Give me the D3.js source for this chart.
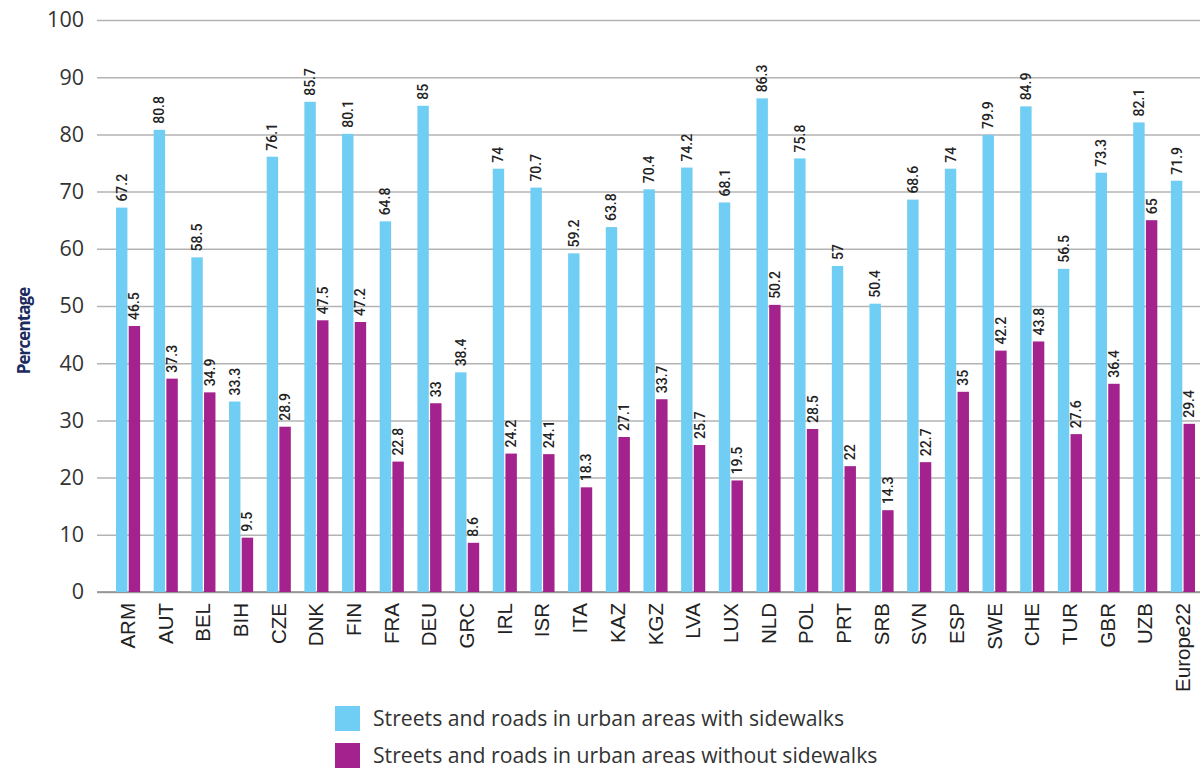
<!DOCTYPE html>
<html lang="en">
<head>
  <meta charset="UTF-8">
  <title>Streets and roads with sidewalks</title>
  <script src="https://d3js.org/d3.v7.min.js"></script>
  <style>
    body { margin: 0; background: #fff; }
    svg { display: block; }
    .tick text { font-family: "Open Sans", sans-serif; fill: #333; }
  </style>
</head>
<body>
<svg width="1204" height="769"></svg>
<script>
const categories = ["ARM","AUT","BEL","BIH","CZE","DNK","FIN","FRA","DEU","GRC","IRL","ISR","ITA","KAZ","KGZ","LVA","LUX","NLD","POL","PRT","SRB","SVN","ESP","SWE","CHE","TUR","GBR","UZB","Europe22"];
const withSidewalks = [67.2,80.8,58.5,33.3,76.1,85.7,80.1,64.8,85,38.4,74,70.7,59.2,63.8,70.4,74.2,68.1,86.3,75.8,57,50.4,68.6,74,79.9,84.9,56.5,73.3,82.1,71.9];
const withoutSidewalks = [46.5,37.3,34.9,9.5,28.9,47.5,47.2,22.8,33,8.6,24.2,24.1,18.3,27.1,33.7,25.7,19.5,50.2,28.5,22,14.3,22.7,35,42.2,43.8,27.6,36.4,65,29.4];
const seriesNames = ["Streets and roads in urban areas with sidewalks", "Streets and roads in urban areas without sidewalks"];
const colors = ["#70cdf3", "#a3228e"];
const yTicks = [0,10,20,30,40,50,60,70,80,90,100];

const svg = d3.select("svg");
const plotTop = 20, plotBottom = 592, plotLeft = 97, plotRight = 1200;

const x = d3.scaleBand().domain(categories).range([116, 1195]).paddingInner(0.36).paddingOuter(0);
const x1 = d3.scaleBand().domain([0, 1]).range([0, x.bandwidth()]).paddingInner(0.1);
const y = d3.scaleLinear().domain([0, 100]).range([plotBottom, plotTop]);

// gridlines + y labels
const yAxis = svg.append("g")
  .attr("transform", `translate(${plotLeft},0)`)
  .call(d3.axisLeft(y).tickValues(yTicks).tickSize(-(plotRight - plotLeft)).tickPadding(13));
yAxis.select(".domain").remove();
yAxis.selectAll(".tick line").attr("stroke", "#b3b3b3").attr("stroke-width", 1.5);
yAxis.selectAll(".tick text").attr("font-size", 21.5);

// x axis line
svg.append("line")
  .attr("x1", plotLeft).attr("x2", plotRight)
  .attr("y1", plotBottom).attr("y2", plotBottom)
  .attr("stroke", "#8c8c8c").attr("stroke-width", 1.5);

const rows = categories.map((c, i) => ({ c, v: [withSidewalks[i], withoutSidewalks[i]] }));

const groups = svg.append("g").selectAll("g").data(rows).join("g")
  .attr("transform", d => `translate(${x(d.c)},0)`);

groups.selectAll("rect").data(d => d.v.map((v, k) => ({ v, k }))).join("rect")
  .attr("x", d => x1(d.k))
  .attr("width", x1.bandwidth())
  .attr("y", d => y(d.v))
  .attr("height", d => y(0) - y(d.v))
  .attr("fill", d => colors[d.k]);

groups.selectAll("text.val").data(d => d.v.map((v, k) => ({ v, k }))).join("text")
  .attr("class", "val")
  .attr("transform", d => `translate(${x1(d.k) + x1.bandwidth() / 2 + 5},${y(d.v) - 6}) rotate(-90)`)
  .attr("font-family", "Roboto, sans-serif")
  .attr("font-size", 14)
  .attr("font-weight", 500)
  .attr("fill", "#222")
  .text(d => d.v);

// category labels
svg.append("g").selectAll("text").data(categories).join("text")
  .attr("transform", d => `translate(${x(d) + x.bandwidth() / 2 + 7},603) rotate(-90)`)
  .attr("text-anchor", "end")
  .attr("font-family", "'Liberation Sans', Arial, sans-serif")
  .attr("font-size", 20.5)
  .attr("fill", "#222")
  .text(d => d);

// y title
svg.append("text")
  .attr("transform", "translate(30,331) rotate(-90)")
  .attr("text-anchor", "middle")
  .attr("font-family", "'Open Sans', sans-serif")
  .attr("font-weight", 700)
  .attr("font-size", 17)
  .attr("letter-spacing", -0.9)
  .attr("fill", "#1b2b5e")
  .text("Percentage");

// legend
const legend = svg.append("g").selectAll("g").data(seriesNames).join("g")
  .attr("transform", (d, i) => `translate(335,${706 + i * 37})`);
legend.append("rect").attr("width", 25).attr("height", 25).attr("fill", (d, i) => colors[i]);
legend.append("text")
  .attr("x", 38).attr("y", 12.5).attr("dy", "0.35em")
  .attr("font-family", "'Open Sans', sans-serif")
  .attr("font-size", 21.2)
  .attr("fill", "#333")
  .text(d => d);
</script>
</body>
</html>
